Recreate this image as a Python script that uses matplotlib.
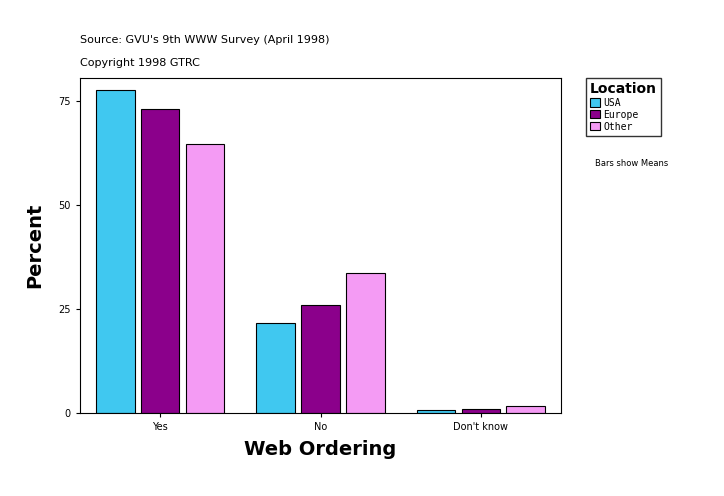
import matplotlib
matplotlib.use("Agg")
import matplotlib.pyplot as plt
import numpy as np

categories = ["Yes", "No", "Don't know"]
series = ["USA", "Europe", "Other"]
usa = [77.6, 21.6, 0.7]
europe = [73.1, 26.0, 1.0]
other = [64.7, 33.7, 1.7]
colors = ["#40C8F0", "#8B008B", "#F49BF4"]
yticks = [0, 25, 50, 75]

fig = plt.figure(figsize=(7.24, 4.96), dpi=100)
ax = fig.add_axes([80/724, 1-413/496, 481/724, 335/496])
x = np.arange(len(categories))
for i, (vals, c, name) in enumerate(zip([usa, europe, other], colors, series)):
    ax.bar(x + (i-1)*0.28, vals, width=0.24, color=c, edgecolor="black", linewidth=0.8, label=name)
ax.set_xlim(-0.5, 2.5)
ax.set_ylim(0, 80.5)
ax.set_xticks(x)
ax.set_xticklabels(categories, fontsize=7)
ax.set_yticks(yticks)
ax.set_yticklabels([str(t) for t in yticks], fontsize=7)
ax.tick_params(length=3, width=0.8)
ax.set_xlabel("Web Ordering", fontsize=14, fontweight="bold", labelpad=6)
ax.set_ylabel("Percent", fontsize=14, fontweight="bold", labelpad=10)
fig.text(80/724, 1-40/496, "Source: GVU's 9th WWW Survey (April 1998)", fontsize=8, va="center")
fig.text(80/724, 1-63/496, "Copyright 1998 GTRC", fontsize=8, va="center")
leg = ax.legend(loc="upper left", bbox_to_anchor=(586/724, 1-78/496), bbox_transform=fig.transFigure,
                title="Location", prop={"family": "DejaVu Sans Mono", "size": 7},
                fancybox=False, edgecolor="black", handlelength=1.0, handleheight=0.9,
                borderaxespad=0, labelspacing=0.2, handletextpad=0.4)
leg.get_title().set_fontweight("bold")
leg.get_title().set_fontsize(10)
leg._legend_box.align = "left"
fig.text(595/724, 1-164/496, "Bars show Means", fontsize=6, va="center")
fig.savefig("out.png", dpi=100)
